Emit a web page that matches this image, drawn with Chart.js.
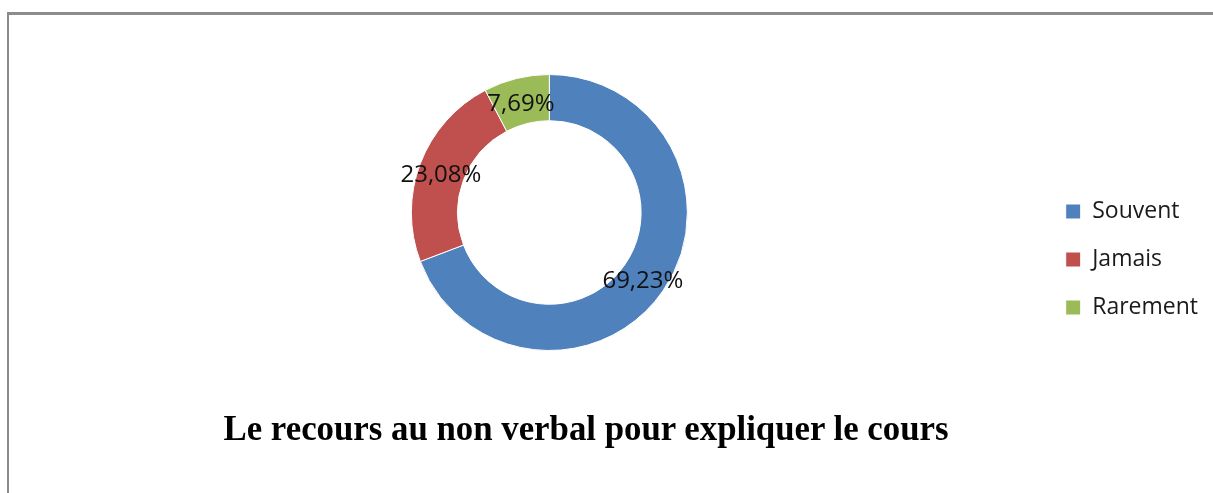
<!DOCTYPE html>
<html>
<head>
<meta charset="utf-8">
<script src="https://cdn.jsdelivr.net/npm/chart.js@4.4.1/dist/chart.umd.min.js"></script>
<style>
  html, body { margin: 0; padding: 0; background: #fff; }
  body { width: 1213px; height: 493px; position: relative; overflow: hidden; }
  #frame {
    position: absolute; left: 7px; top: 12px; width: 1210px; height: 490px;
    border-left: 2px solid #8c8c8c; border-top: 3px solid #8c8c8c;
  }
  #wrap { position: absolute; left: 0; top: 0; width: 1213px; height: 493px; }
  #title {
    position: absolute; left: 0; width: 1172px; top: 409px;
    text-align: center; font-family: "Liberation Serif", serif; font-weight: bold;
    font-size: 34.8px; color: #000; line-height: 40px;
  }
</style>
</head>
<body>
<div id="frame"></div>
<div id="wrap"><canvas id="donut"></canvas></div>
<div id="title">Le recours au non verbal pour expliquer le cours</div>
<script>
var categories = ['Souvent', 'Jamais', 'Rarement'];
var percentages = [69.23, 23.08, 7.69];
var sliceColors = ['#4F81BD', '#C0504D', '#9BBB59'];

function frPercent(v) {
    return v.toFixed(2).replace('.', ',') + '%';
}

// percentage text in the middle of each ring segment
var sliceLabels = {
    id: 'sliceLabels',
    afterDatasetsDraw: function(chart) {
        var ctx = chart.ctx;
        var meta = chart.getDatasetMeta(0);
        ctx.save();
        ctx.font = '24px "Open Sans"';
        ctx.fillStyle = '#111';
        ctx.textAlign = 'center';
        ctx.textBaseline = 'middle';
        meta.data.forEach(function(arc, i) {
            var p = arc.tooltipPosition();
            ctx.fillText(frPercent(percentages[i]), p.x - 1, p.y + 3);
        });
        ctx.restore();
    }
};

document.addEventListener('DOMContentLoaded', function() {
    var ctx = document.getElementById('donut').getContext('2d');

    new Chart(ctx, {
        type: 'doughnut',
        data: {
            labels: categories,
            datasets: [{
                data: percentages,
                backgroundColor: sliceColors,
                borderColor: '#ffffff',
                borderWidth: 1
            }]
        },
        options: {
            responsive: true,
            maintainAspectRatio: false,
            animation: false,
            events: [],
            cutout: '66.5%',
            layout: {
                padding: { top: 74, bottom: 142, left: 58, right: 5 }
            },
            plugins: {
                tooltip: { enabled: false },
                legend: {
                    position: 'right',
                    align: 'center',
                    title: {
                        display: true,
                        text: '',
                        padding: { top: 0, bottom: 79.6 }
                    },
                    labels: {
                        boxWidth: 15,
                        boxHeight: 15,
                        padding: 25,
                        color: '#1a1a1a',
                        font: { family: '"Open Sans"', size: 23 }
                    }
                }
            }
        },
        plugins: [sliceLabels]
    });
});
</script>
</body>
</html>
